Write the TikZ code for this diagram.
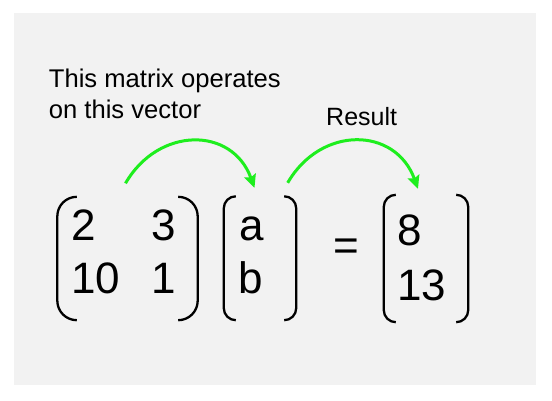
\documentclass[tikz,border=0pt]{standalone}
\usepackage{fontspec}
\setmainfont{Liberation Sans}
\usepackage{xcolor}
\usetikzlibrary{arrows.meta,calc,positioning}
\definecolor{panelgray}{HTML}{F2F2F2}
\definecolor{arrowgreen}{HTML}{1EEE1E}
% bracket pair round an empty box node: #1 name, #2 curl
\newcommand{\bracketpair}[2]{%
  \draw[paren, rounded corners=#2] ([xshift=#2]#1.north west) -- (#1.north west)
       -- (#1.south west) -- ([xshift=#2]#1.south west);
  \draw[paren, rounded corners=#2] ([xshift=-#2]#1.north east) -- (#1.north east)
       -- (#1.south east) -- ([xshift=-#2]#1.south east);}

\begin{document}
\begin{tikzpicture}[
    x=1pt, y=1pt,
    entry/.style={anchor=base west, inner sep=0pt,
                  font=\fontsize{44}{50}\selectfont},
    caption/.style={inner sep=0pt, align=left,
                    font=\fontsize{25.6}{31.3}\selectfont},
    box/.style={draw=none, inner sep=0pt},
    paren/.style={line width=2.3pt},
    flow/.style={-{Stealth[length=13pt, width=12pt, inset=2pt]},
                 line width=3pt, draw=arrowgreen, looseness=1.3},
]
\useasboundingbox (0,0) rectangle (552,400);
\fill[panelgray] (13.5,15) rectangle (536,387.3);

% Captions
\node[caption, anchor=north west] (note) at (48.7,331.7)
     {This matrix operates\\on this vector};
\node[caption, anchor=base west, font=\fontsize{25}{30}\selectfont]
     (res-label) at (326,275) {Result};

% Matrix
\node[entry] (m11) at (71.5,160) {2};
\node[entry] (m12) at (151.2,160) {3};
\node[entry] (m21) at (71.2,107) {10};
\node[entry] (m22) at (151.2,107) {1};
\node[box, minimum width=140pt, minimum height=123pt] (mat) at (127.5,141.5) {};

% Vector
\node[entry] (va) at (239.4,160) {a};
\node[entry] (vb) at (238.1,107) {b};
\node[box, minimum width=72pt, minimum height=123.5pt] (vec) at (260,141.75) {};

% Equals and result
\node[entry, anchor=base] (eq) at (346,140) {=};
\node[entry] (r1) at (397,154.5) {8};
\node[entry] (r2) at (397.2,100) {13};
\node[box, minimum width=84pt, minimum height=127pt] (res) at (426,141.5) {};

% Brackets
\bracketpair{mat}{19.5pt}
\bracketpair{vec}{12pt}
\bracketpair{res}{12pt}

% Arrows
\draw[flow] ([xshift=-2pt, yshift=13.5pt]mat.north) to[out=60, in=110]
            ([xshift=-5.5pt, yshift=8.5pt]vec.north);
\draw[flow] ([xshift=-8.5pt, yshift=13.5pt]vec.north east) to[out=60, in=110]
            ([xshift=-8pt, yshift=6pt]res.north);
\end{tikzpicture}
\end{document}
